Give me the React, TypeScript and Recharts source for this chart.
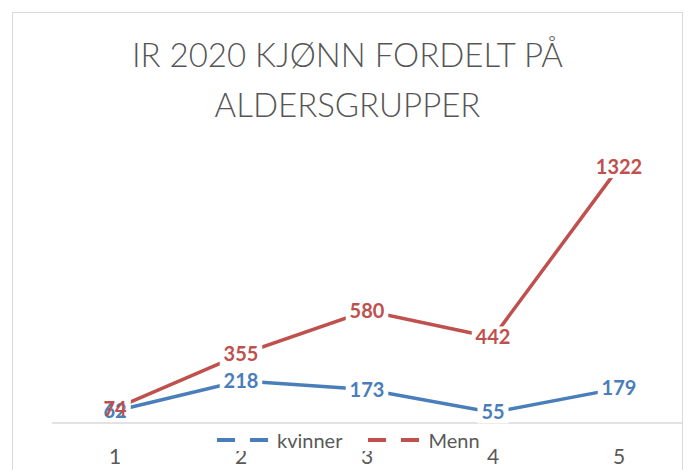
import { LineChart, Line, XAxis, YAxis, Legend, LabelList } from 'recharts'

const groups = ['1', '2', '3', '4', '5']
const kvinner = [62, 218, 173, 55, 179]
const menn = [74, 355, 580, 442, 1322]

const BLUE = '#4A7EBB'
const RED = '#C0504D'
const FONT = 'Lato, "Open Sans", sans-serif'

const data = groups.map((g, i) => ({ group: g, kvinner: kvinner[i], Menn: menn[i] }))

function labelSize(value: number) {
  const w = String(value).length * 11.5 + 8
  return { w, h: 22 }
}

function LabelBox(props: any) {
  const { x, y, value } = props
  const { w, h } = labelSize(value)
  return <rect x={x - w / 2} y={y - h / 2} width={w} height={h} fill="#fff" />
}

function makeLabelText(color: string) {
  return (props: any) => {
    const { x, y, value } = props
    return (
      <text
        x={x}
        y={y}
        dy={7}
        textAnchor="middle"
        fill={color}
        fontFamily={FONT}
        fontWeight={700}
        fontSize={20}
      >
        {value}
      </text>
    )
  }
}

function LegendContent() {
  const item = (color: string, name: string, gap: number) => (
    <div style={{ display: 'flex', alignItems: 'center', marginRight: gap }}>
      <svg width={55} height={4} style={{ marginRight: 5 }}>
        <line x1={0} y1={2} x2={55} y2={2} stroke={color} strokeWidth={4} strokeDasharray="18 15" />
      </svg>
      <span>{name}</span>
    </div>
  )
  return (
    <div
      style={{
        display: 'flex',
        alignItems: 'center',
        background: '#fff',
        height: 23,
        padding: '0 4px',
        fontFamily: FONT,
        fontSize: 20,
        color: '#595959',
      }}
    >
      {item(BLUE, 'kvinner', 26)}
      {item(RED, 'Menn', 0)}
    </div>
  )
}

export default function App() {
  return (
    <div style={{ position: 'fixed', left: 0, top: 0, width: 691, height: 470, overflow: 'hidden', background: '#fff' }}>
      <div
        style={{
          position: 'absolute',
          left: 12,
          top: 12,
          width: 669,
          height: 470,
          border: '1px solid #d9d9d9',
          background: '#fff',
        }}
      >
        <div
          style={{
            position: 'absolute',
            top: 16,
            left: 0,
            width: 669,
            textAlign: 'center',
            fontFamily: FONT,
            fontWeight: 300,
            fontSize: 33,
            lineHeight: '50px',
            color: '#555555',
            zIndex: 2,
          }}
        >
          IR 2020 KJØNN FORDELT PÅ
          <br />
          ALDERSGRUPPER
        </div>
        <LineChart width={669} height={460} data={data} margin={{ top: 139, right: 0, left: 39, bottom: 20 }}>
          <XAxis
            dataKey="group"
            padding={{ left: 63, right: 63 }}
            axisLine={{ stroke: '#d9d9d9', strokeWidth: 1.5 }}
            tickLine={false}
            tickMargin={20}
            height={30}
            tick={{ fontSize: 21, fill: '#595959', fontFamily: FONT }}
          />
          <YAxis hide domain={[0, 1400]} />
          <Legend
            layout="horizontal"
            verticalAlign="middle"
            align="center"
            wrapperStyle={{ top: 415, left: 200, width: 'auto', height: 23 }}
            content={<LegendContent />}
          />
          <Line dataKey="kvinner" stroke={BLUE} strokeWidth={3.5} dot={false} isAnimationActive={false} />
          <Line dataKey="Menn" stroke={RED} strokeWidth={3.5} dot={false} isAnimationActive={false} />
          <Line dataKey="kvinner" stroke="none" dot={false} legendType="none" isAnimationActive={false}>
            <LabelList dataKey="kvinner" content={<LabelBox />} />
          </Line>
          <Line dataKey="Menn" stroke="none" dot={false} legendType="none" isAnimationActive={false}>
            <LabelList dataKey="Menn" content={<LabelBox />} />
          </Line>
          <Line dataKey="kvinner" stroke="none" dot={false} legendType="none" isAnimationActive={false}>
            <LabelList dataKey="kvinner" content={makeLabelText(BLUE)} />
          </Line>
          <Line dataKey="Menn" stroke="none" dot={false} legendType="none" isAnimationActive={false}>
            <LabelList dataKey="Menn" content={makeLabelText(RED)} />
          </Line>
        </LineChart>
      </div>
    </div>
  )
}
